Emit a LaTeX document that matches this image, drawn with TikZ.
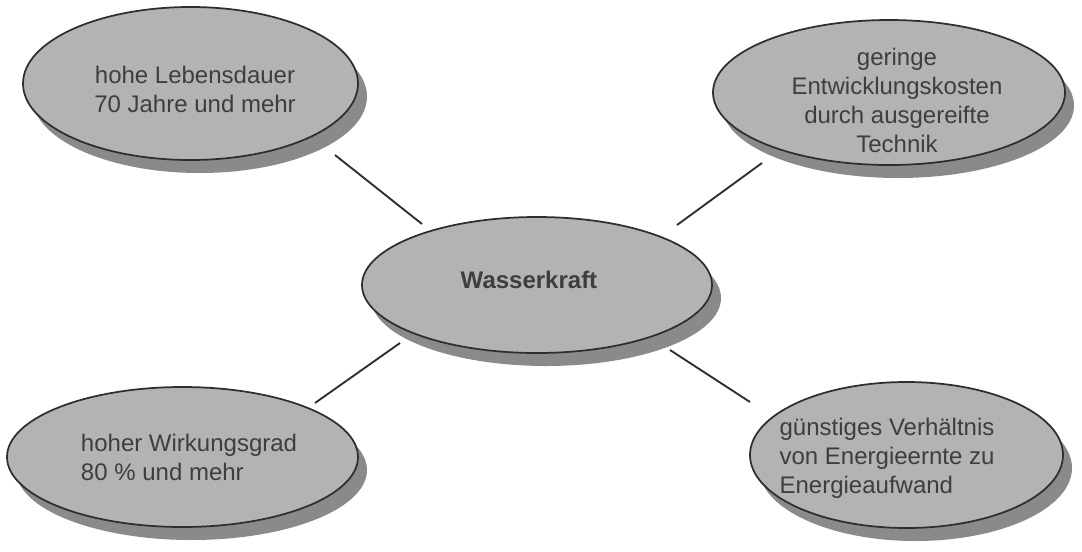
\documentclass[tikz,border=0pt]{standalone}
\usepackage{fontspec}
\setmainfont{Liberation Sans}
\usetikzlibrary{shapes.geometric,shadows}
\definecolor{bubblefill}{HTML}{B3B3B3}
\definecolor{bubbleshadow}{HTML}{8A8A8A}
\definecolor{edgecol}{HTML}{2E2E2E}
\definecolor{textcol}{HTML}{3E3E3E}
\begin{document}
\begin{tikzpicture}[x=0.75pt,y=-0.75pt,
  bubble/.style={ellipse, draw=edgecol, line width=1.3pt, fill=bubblefill, inner sep=0pt,
    drop shadow={shadow xshift=6.75pt, shadow yshift=-9.75pt, fill=bubbleshadow, opacity=1}},
  txt/.style={text=textcol, font=\fontsize{18}{21.75}\selectfont, inner sep=0pt},
  link/.style={draw=edgecol, line width=1.4pt}]
\fill[white] (0,0) rectangle (1082,551);
\useasboundingbox (0,0) rectangle (1082,551);

\node[bubble, minimum width=251.25pt, minimum height=114.75pt,
  label={[txt, align=center, xshift=3.4pt, yshift=-4.5pt]center:{hohe Lebensdauer\\70 Jahre und mehr}}]
  (n1) at (190.5,83.5) {};
\node[bubble, minimum width=264pt, minimum height=108.75pt,
  label={[txt, align=center, xshift=6pt, yshift=-5.6pt]center:{geringe\\Entwicklungskosten\\durch ausgereifte\\Technik}}]
  (n2) at (889,92.5) {};
\node[bubble, minimum width=262.5pt, minimum height=102pt,
  label={[txt, font=\fontsize{18}{21.75}\selectfont\bfseries, xshift=-6pt, yshift=3.75pt]center:{Wasserkraft}}]
  (n3) at (537,285) {};
\node[bubble, minimum width=263.25pt, minimum height=105pt,
  label={[txt, align=left, xshift=4.9pt, yshift=0pt]center:{hoher Wirkungsgrad\\80 \% und mehr}}]
  (n4) at (182.5,457) {};
\node[bubble, minimum width=234.75pt, minimum height=109.5pt,
  label={[txt, align=left, xshift=-14.6pt, yshift=-2.25pt]center:{günstiges Verhältnis\\von Energieernte zu\\Energieaufwand}}]
  (n5) at (906.5,455) {};

\coordinate (c1a) at (335,155);
\coordinate (c1b) at (422,224);
\coordinate (c2a) at (762,163);
\coordinate (c2b) at (677,225);
\coordinate (c3a) at (400,343);
\coordinate (c3b) at (315,403);
\coordinate (c4a) at (670,350);
\coordinate (c4b) at (750,402);
\draw[link] (c1a) -- (c1b);
\draw[link] (c2a) -- (c2b);
\draw[link] (c3a) -- (c3b);
\draw[link] (c4a) -- (c4b);
\end{tikzpicture}
\end{document}
